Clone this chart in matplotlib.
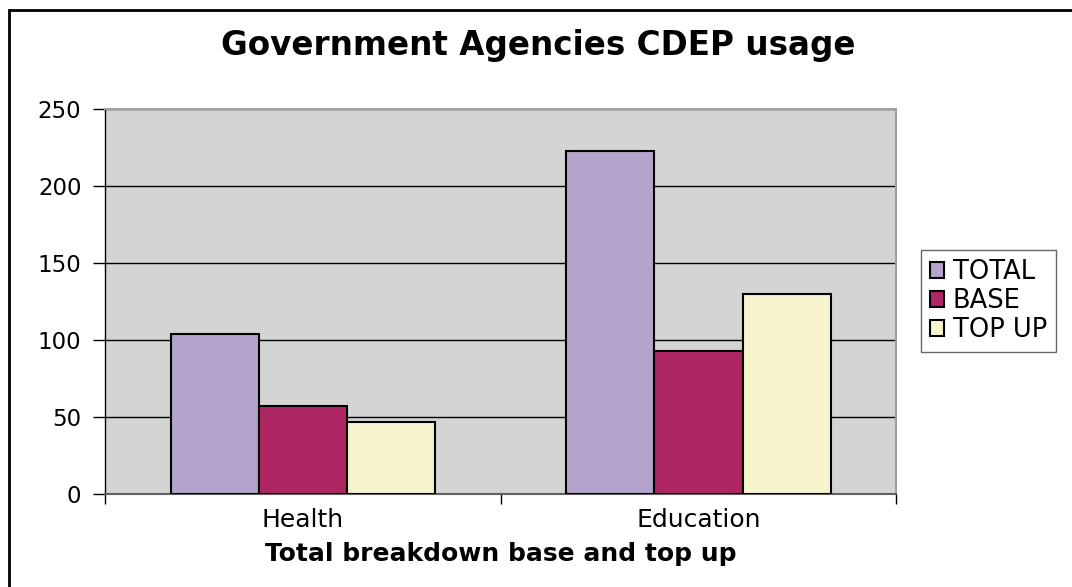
import numpy as np
import matplotlib.pyplot as plt
from matplotlib.patches import Rectangle

plt.rcParams['font.family'] = ['DejaVu Sans']

categories = ['Health', 'Education']
series = ['TOTAL', 'BASE', 'TOP UP']
total = [104, 223]
base = [57, 93]
top_up = [47, 130]
colors = ['#b4a4cb', '#ae2664', '#f6f4cd']
yticks = [0, 50, 100, 150, 200, 250]

fig = plt.figure(figsize=(10.72, 5.87), dpi=100)
ax = fig.add_axes([0.098, 0.1584, 0.738, 0.6559])
ax.set_facecolor('#d4d4d4')

x = np.arange(len(categories))
w = 0.223
for k, (vals, col, name) in enumerate(zip([total, base, top_up], colors, series)):
    ax.bar(x + (k - 1) * w, vals, width=w, color=col, edgecolor='black',
           linewidth=1.5, label=name, zorder=3)

ax.set_xlim(-0.5, 1.5)
ax.set_ylim(0, 250)
ax.set_yticks(yticks)
ax.yaxis.grid(True, color='black', linewidth=1, zorder=1)
ax.set_axisbelow(True)

ax.set_xticks(x)
ax.set_xticklabels(categories, fontsize=18)
ax.set_xticks([-0.5, 0.5, 1.5], minor=True)
ax.tick_params(axis='x', which='major', length=0, pad=10)
ax.tick_params(axis='x', which='minor', length=7, width=1, direction='out')
ax.tick_params(axis='y', length=9, width=1, direction='out', labelsize=16.5, pad=8)

for s in ['top', 'right']:
    ax.spines[s].set_color('#a0a0a0')
    ax.spines[s].set_linewidth(1.5)
ax.spines['bottom'].set_color('#606060')
ax.spines['bottom'].set_linewidth(1.5)
ax.spines['left'].set_color('black')
ax.spines['left'].set_linewidth(1)

ax.set_xlabel('Total breakdown base and top up', fontsize=18, fontweight='bold',
              labelpad=7)
fig.text(0.502, 0.923, 'Government Agencies CDEP usage', ha='center', va='center',
         fontsize=23.5, fontweight='bold')

leg = fig.legend(loc='center left', bbox_to_anchor=(0.859, 0.487), fontsize=18.5,
                 frameon=True, fancybox=False, edgecolor='#404040',
                 handlelength=0.55, handleheight=0.55, handletextpad=0.35,
                 labelspacing=0.12, borderpad=0.35, borderaxespad=0)
leg.get_frame().set_linewidth(1)

# outer chart border
fig.patches.append(Rectangle((9 / 1072, -0.05), 1.1, 1 - 10 / 587 + 0.05,
                             transform=fig.transFigure, fill=False,
                             edgecolor='black', linewidth=2))

fig.savefig('out.png', dpi=100)
